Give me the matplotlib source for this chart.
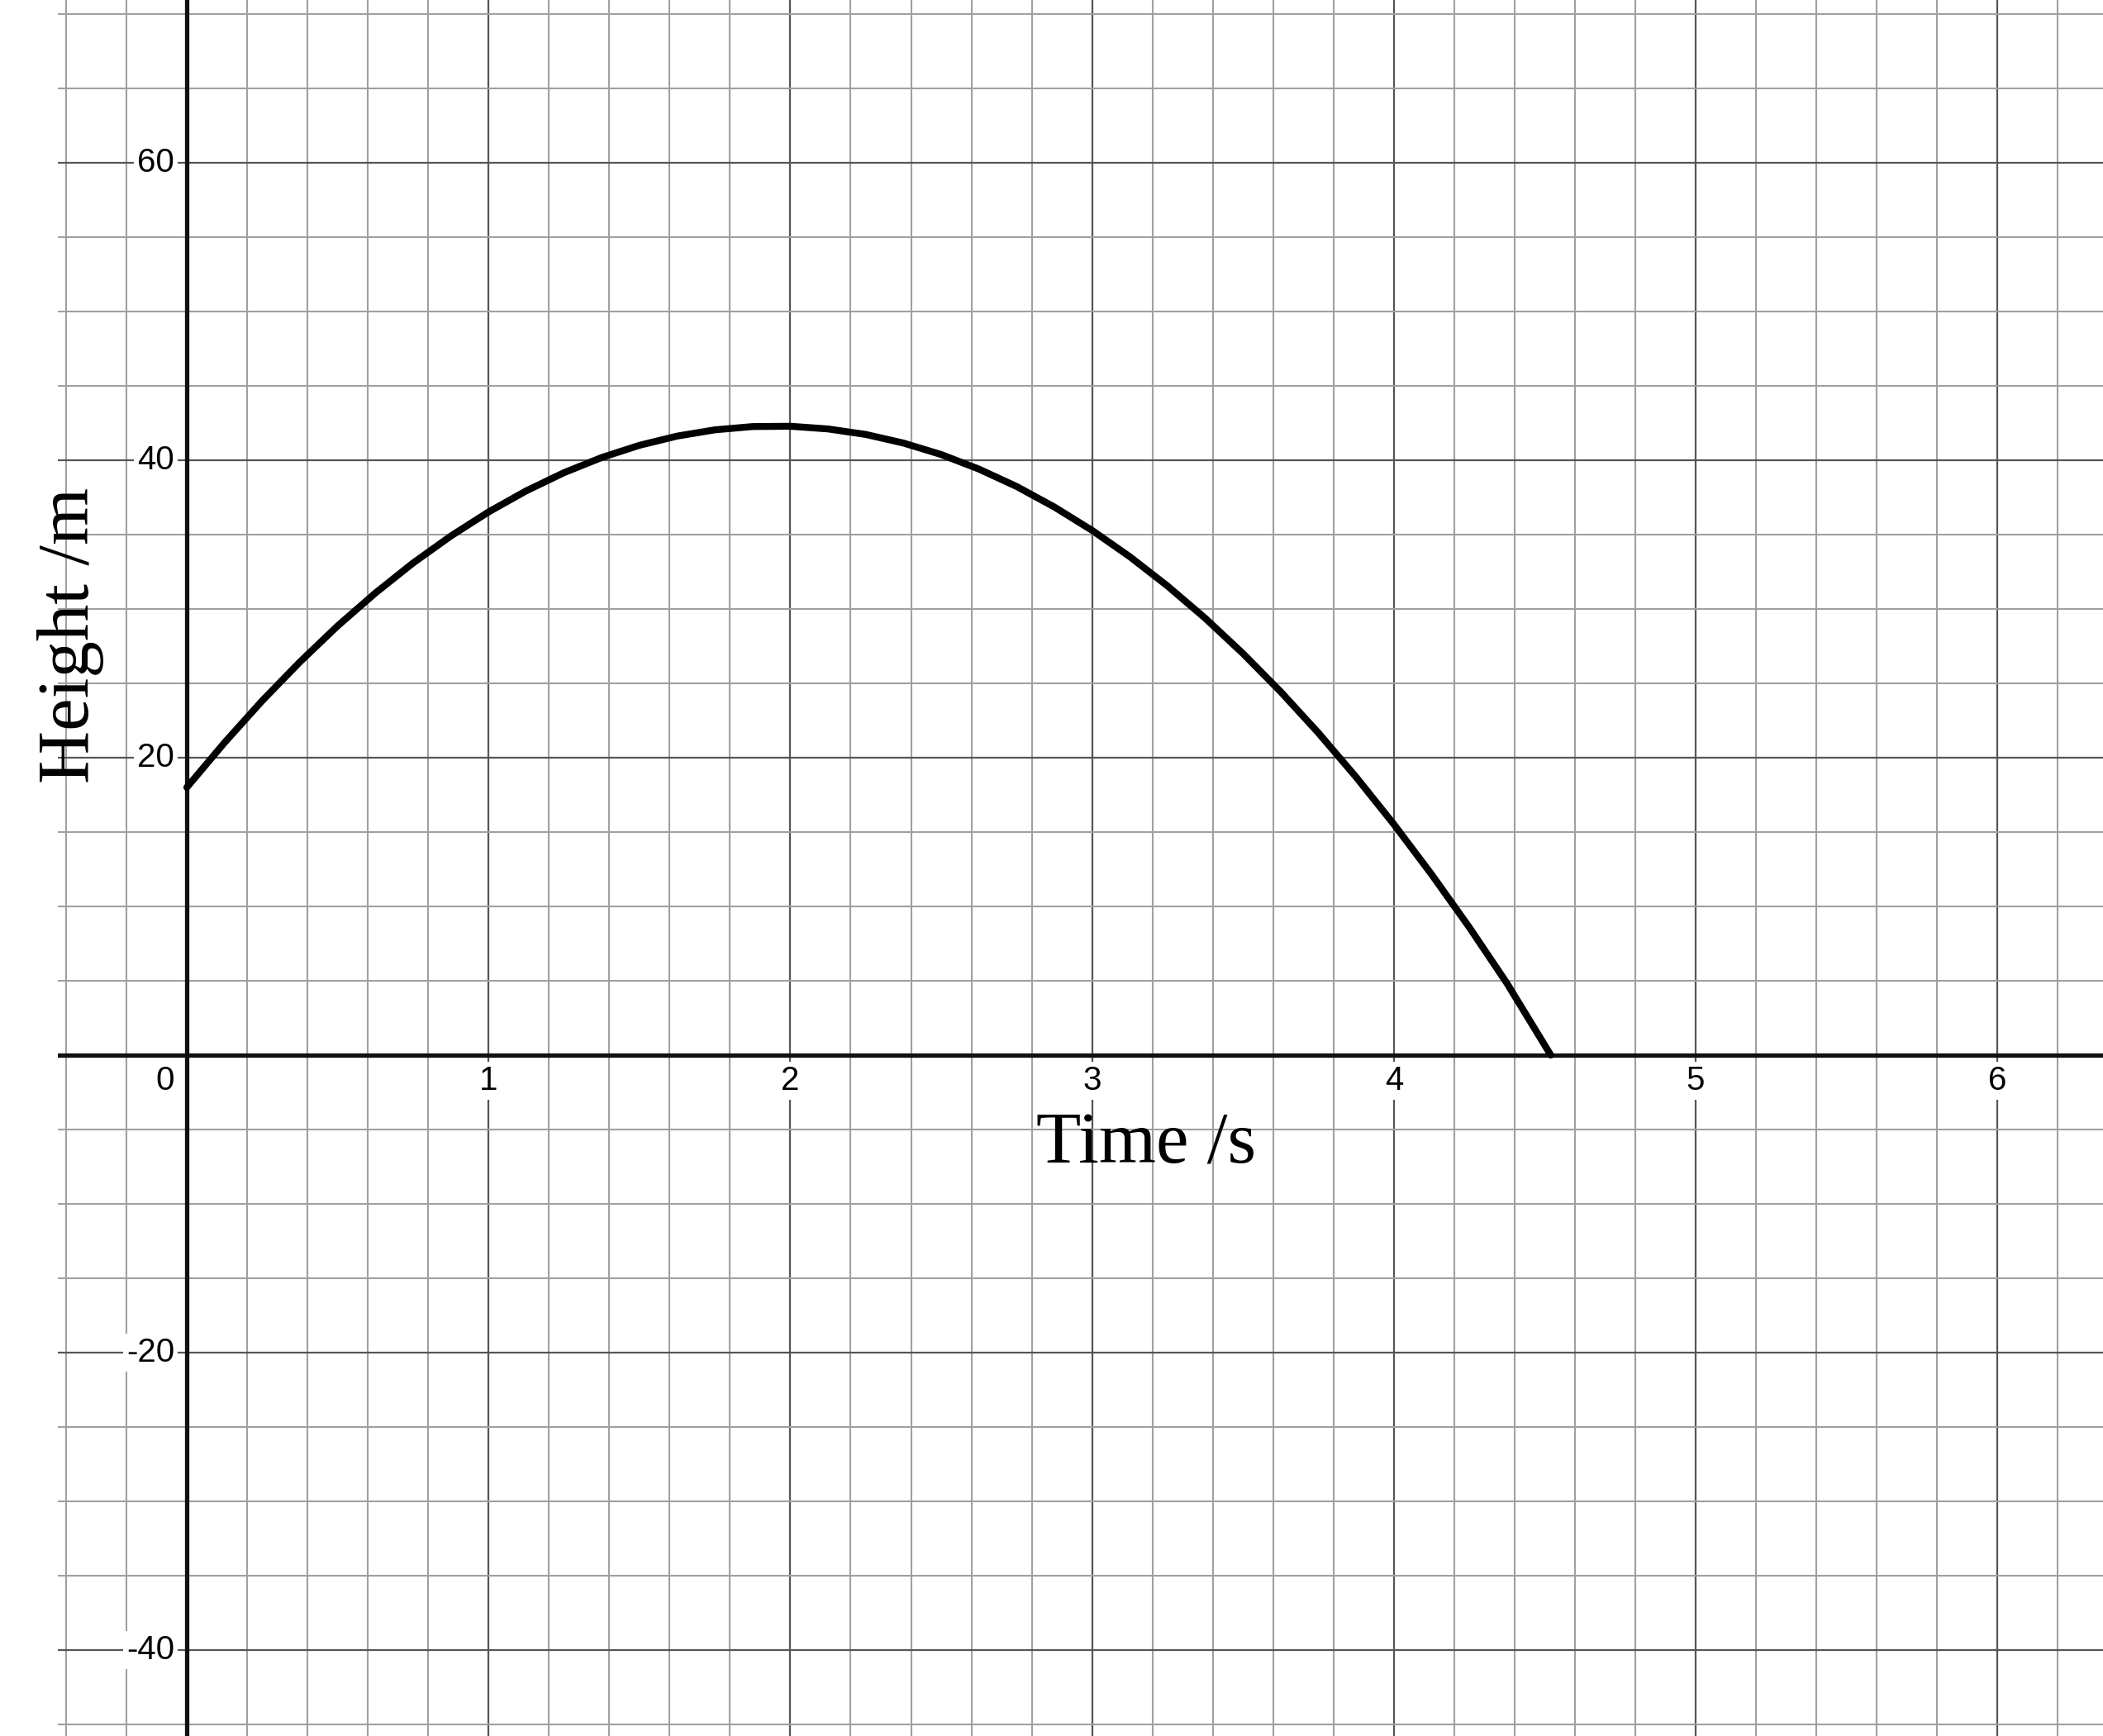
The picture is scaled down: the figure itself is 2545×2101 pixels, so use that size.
import numpy as np
import matplotlib
matplotlib.use('Agg')
import matplotlib.pyplot as plt

# values
time_s = [0.0, 0.125, 0.25, 0.375, 0.5, 0.625, 0.75, 0.875, 1.0, 1.125, 1.25,
          1.375, 1.5, 1.625, 1.75, 1.875, 2.0, 2.125, 2.25, 2.375, 2.5,
          2.625, 2.75, 2.875, 3.0, 3.125, 3.25, 3.375, 3.5, 3.625, 3.75,
          3.875, 4.0, 4.125, 4.25, 4.375, 4.52]
height_m = [18.0, 21.01, 23.83, 26.44, 28.86, 31.07, 33.09, 34.90, 36.52, 37.94, 39.16,
            40.18, 41.0, 41.62, 42.04, 42.26, 42.28, 42.10, 41.73, 41.15, 40.38,
            39.40, 38.23, 36.85, 35.28, 33.51, 31.54, 29.37, 27.0, 24.43, 21.66,
            18.69, 15.52, 12.15, 8.59, 4.82, 0.0]

x_ticks = [1, 2, 3, 4, 5, 6]
y_ticks = [-40, -20, 20, 40, 60]

fig = plt.figure(figsize=(25.45, 21.01), dpi=100)
ax = fig.add_axes([70/2545, 0, 1 - 70/2545, 1])

for s in ax.spines.values():
    s.set_visible(False)
ax.set_xticks(np.arange(-0.4, 6.35, 0.2), minor=True)
ax.set_yticks(np.arange(-45, 71, 5), minor=True)
ax.set_xticks(range(0, 7))
ax.set_yticks(range(-40, 61, 20))
ax.tick_params(which='both', length=0, labelbottom=False, labelleft=False)
ax.grid(which='minor', color='#a0a0a0', lw=1.5)
ax.grid(which='major', color='#555555', lw=1.6)
ax.set_axisbelow(True)
# limits after ticks, so set_xticks does not widen them
ax.set_xlim(-0.4274, 6.35)
ax.set_ylim(-45.78, 70.94)

ax.axhline(0, color='#111111', lw=3.8, zorder=2)
ax.axvline(0, color='#111111', lw=3.8, zorder=2)

ax.plot(time_s, height_m, color='black', lw=6, solid_capstyle='round',
        solid_joinstyle='round', zorder=3)

box = dict(facecolor='white', edgecolor='none', pad=3)
for t in x_ticks:
    ax.text(t, -1.72, str(t), ha='center', va='center', fontsize=29,
            family='Liberation Sans', bbox=box, zorder=2.5)
for h in y_ticks:
    ax.text(-0.041, h, str(h), ha='right', va='center', fontsize=29,
            family='Liberation Sans', bbox=box, zorder=2.5)
ax.text(-0.041, -1.72, '0', ha='right', va='center', fontsize=29,
        family='Liberation Sans', bbox=box, zorder=2.5)

ax.text(3.18, -7.23, 'Time /s', ha='center', va='baseline', fontsize=64,
        family='Liberation Serif', zorder=4)
ax.text(-0.326, 28.2, 'Height /m', ha='center', va='baseline', rotation=90,
        rotation_mode='anchor', fontsize=64, family='Liberation Serif', zorder=4)

fig.savefig('out.png', dpi=100, facecolor='white')
